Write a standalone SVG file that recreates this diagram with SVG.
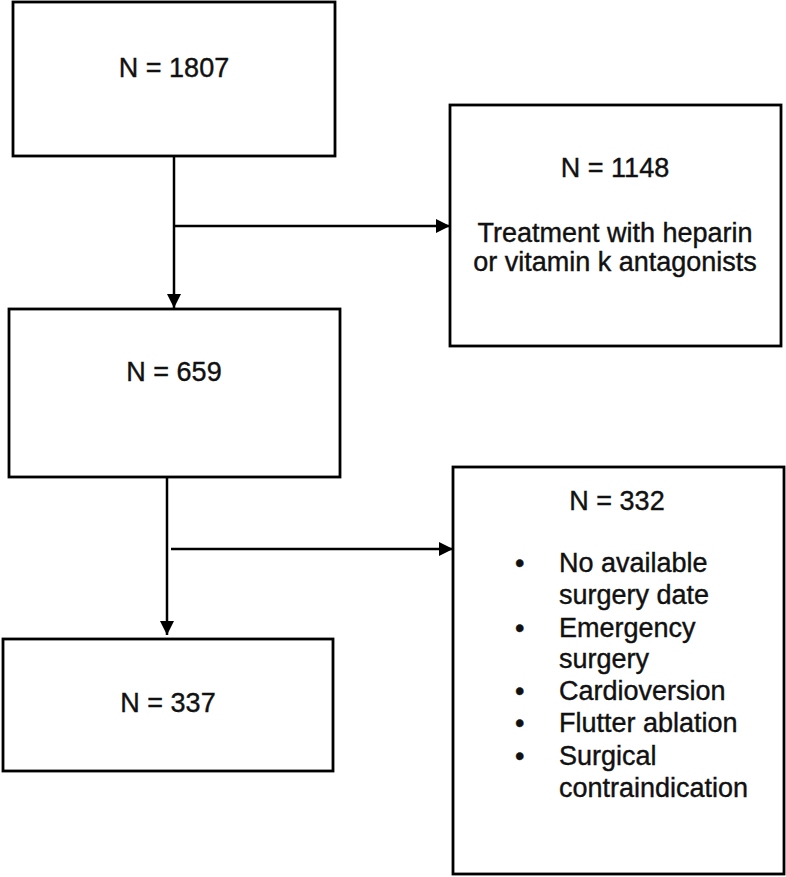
<svg xmlns="http://www.w3.org/2000/svg" width="786" height="877" viewBox="0 0 786 877">
<style>
.box{fill:#fff;stroke:#000;stroke-width:2.8}
.t{font-family:"Liberation Sans",Arial,sans-serif;font-size:27px;fill:#111;stroke:#111;stroke-width:0.4}
.c{text-anchor:middle}
.ln{stroke:#000;stroke-width:2.5;fill:none}
</style>
<defs>
<marker id="ah" viewBox="0 0 10 10" refX="10" refY="5" markerWidth="5.6" markerHeight="5.6" orient="auto" markerUnits="strokeWidth">
<path d="M0,0 L10,5 L0,10 z" fill="#000"/>
</marker>
</defs>
<rect width="786" height="877" fill="#fff"/>
<g id="connectors">
<line class="ln" x1="174" y1="156" x2="174" y2="308" marker-end="url(#ah)"/>
<line class="ln" x1="174" y1="226" x2="450" y2="226" marker-end="url(#ah)"/>
<line class="ln" x1="167" y1="477" x2="167" y2="635" marker-end="url(#ah)"/>
<line class="ln" x1="171" y1="549" x2="453" y2="549" marker-end="url(#ah)"/>
</g>
<g id="n1807">
<rect class="box" x="13" y="2" width="322" height="154"/>
<text class="t c" x="174" y="77">N = 1807</text>
</g>
<g id="n1148">
<rect class="box" x="450" y="105" width="331" height="241"/>
<text class="t c" x="615" y="177">N = 1148</text>
<text class="t c" x="615" y="242">Treatment with heparin</text>
<text class="t c" x="615" y="271">or vitamin k antagonists</text>
</g>
<g id="n659">
<rect class="box" x="9" y="309" width="331" height="168"/>
<text class="t c" x="174" y="381">N = 659</text>
</g>
<g id="n337">
<rect class="box" x="3" y="639" width="330" height="132"/>
<text class="t c" x="168" y="712">N = 337</text>
</g>
<g id="n332">
<rect class="box" x="453" y="467" width="331" height="407"/>
<text class="t c" x="617" y="510">N = 332</text>
<g class="t">
<text x="515" y="572">•</text>
<text x="559" y="572">No available</text>
<text x="559" y="604">surgery date</text>
<text x="515" y="637">•</text>
<text x="559" y="637">Emergency</text>
<text x="559" y="668">surgery</text>
<text x="515" y="700">•</text>
<text x="559" y="700">Cardioversion</text>
<text x="515" y="732">•</text>
<text x="559" y="732">Flutter ablation</text>
<text x="515" y="765">•</text>
<text x="559" y="765">Surgical</text>
<text x="559" y="797">contraindication</text>
</g>
</g>
</svg>
